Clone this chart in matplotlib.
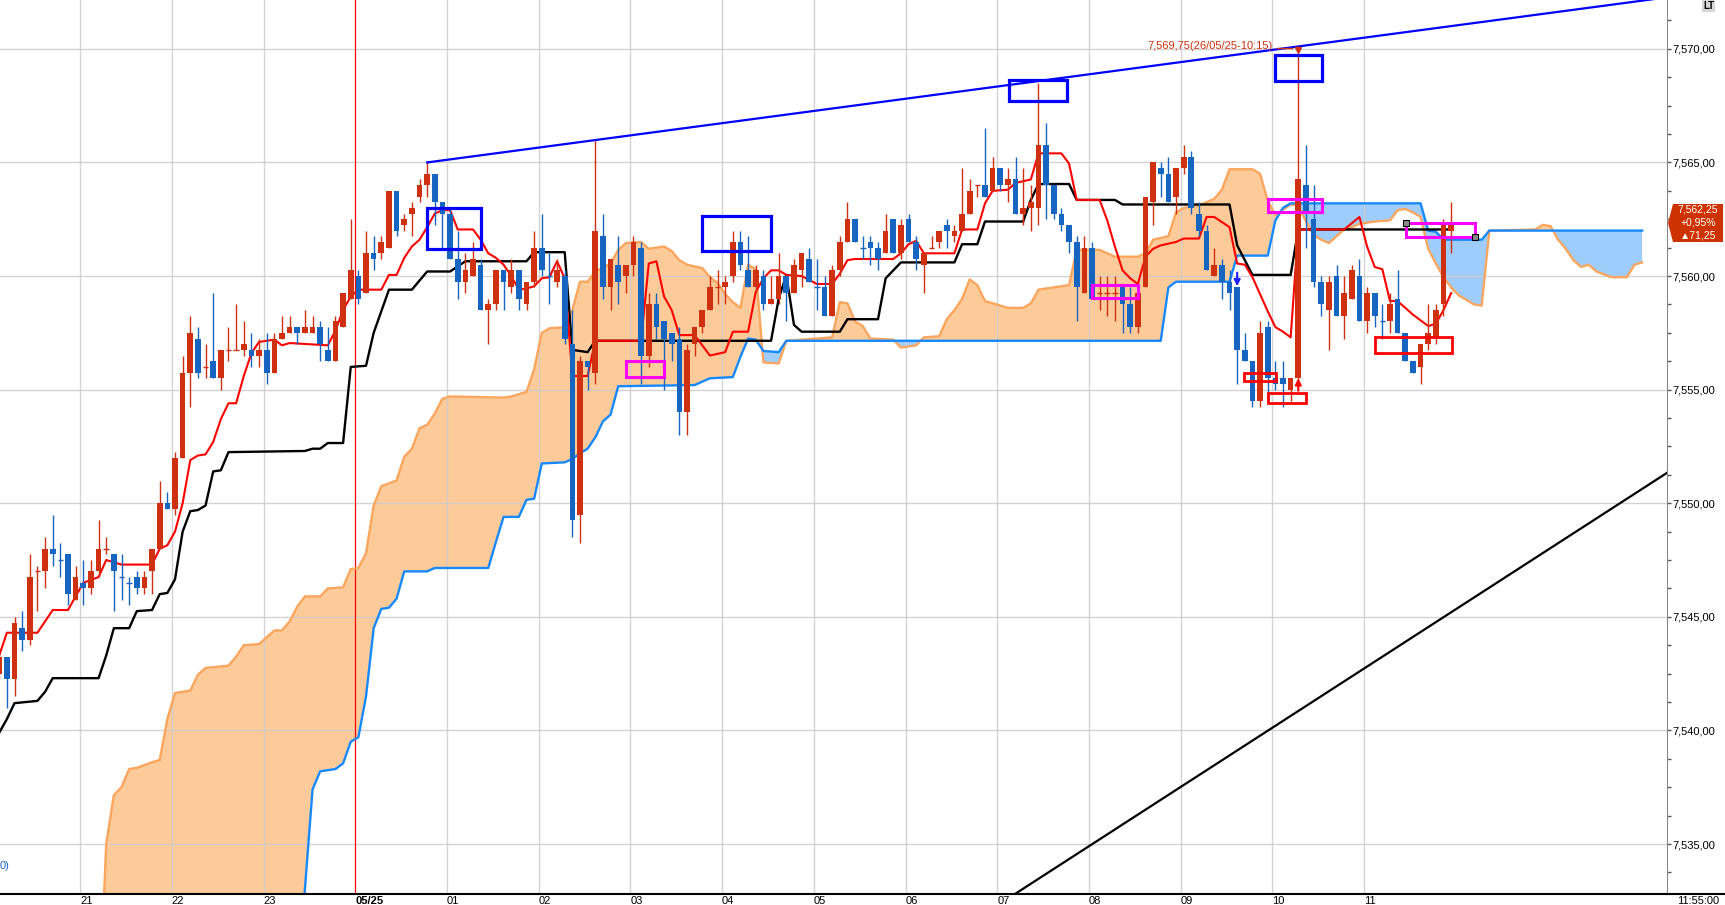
import numpy as np
import matplotlib
matplotlib.use("Agg")
import matplotlib.pyplot as plt
from matplotlib.patches import Rectangle, Polygon
from matplotlib.lines import Line2D
from matplotlib.ticker import MultipleLocator, FuncFormatter

plt.rcParams['font.family'] = ['Liberation Sans', 'DejaVu Sans']

# 5 minute bars, bar 0 = 05/25 00:00, first bar = 20:05 of the day before
first_bar = -47

opens = [
    7542.50, 7543.25, 7542.25, 7544.50, 7544.00, 7547.00, 7547.00, 7548.00, 7547.50, 7547.75, 7545.75,
    7546.50, 7546.25, 7547.00, 7548.00, 7547.75, 7546.75, 7546.50, 7546.75, 7546.25, 7547.00, 7548.00, 7550.00,
    7549.75, 7552.00, 7555.75, 7557.25, 7556.00, 7556.25, 7555.50, 7556.75, 7556.75, 7556.75, 7556.75, 7556.50,
    7556.75, 7555.75, 7557.25, 7557.50, 7557.75, 7557.50, 7557.50, 7557.75, 7556.75, 7556.25, 7557.75, 7559.00,
    7560.00, 7559.25, 7561.00, 7561.00, 7561.25, 7563.75, 7562.25, 7562.75, 7563.50, 7564.00, 7564.50, 7563.25,
    7562.75, 7560.75, 7559.75, 7560.00, 7560.50, 7558.50, 7558.75, 7560.25, 7559.50, 7560.25, 7558.75, 7559.75,
    7561.25, 7560.00, 7559.75, 7560.00, 7557.00, 7549.50, 7556.25, 7555.75, 7561.75, 7559.50, 7560.50, 7560.00,
    7560.50, 7561.25, 7556.50, 7558.75, 7558.00, 7557.50, 7557.25, 7554.00, 7557.00, 7557.75, 7558.50, 7559.50,
    7559.50, 7560.00, 7561.50, 7560.25, 7559.50, 7560.00, 7558.75, 7559.00, 7560.00, 7559.25, 7560.25, 7560.75,
    7559.50, 7559.50, 7558.25, 7560.25, 7561.50, 7562.50, 7561.25, 7561.50, 7561.25, 7561.00, 7562.50, 7561.00,
    7562.50, 7561.50, 7560.50, 7561.25, 7561.50, 7562.25, 7561.75, 7562.00, 7562.75, 7564.00, 7564.00, 7563.75,
    7564.75, 7564.00, 7564.25, 7562.75, 7563.00, 7563.00, 7565.75, 7564.00, 7562.75, 7562.25, 7561.50, 7559.25,
    7561.25, 7559.25, 7559.25, 7559.25, 7559.50, 7558.75, 7557.75, 7559.50, 7563.25, 7564.75, 7564.50, 7563.50,
    7564.75, 7565.25, 7562.75, 7562.00, 7560.00, 7560.50, 7559.75, 7559.50, 7556.75, 7556.25, 7554.50, 7557.75,
    7555.50, 7555.50, 7555.00, 7555.50, 7564.00, 7562.50, 7559.75, 7558.50, 7560.00, 7558.25, 7559.00, 7560.00,
    7558.00, 7559.25, 7558.00, 7558.00, 7559.00, 7557.50, 7556.25, 7556.00, 7557.00, 7557.25, 7558.75, 7562.00,
]
highs = [
    7543.50, 7543.25, 7545.00, 7545.25, 7547.75, 7547.25, 7548.50, 7549.50, 7548.25, 7547.75, 7547.25,
    7547.50, 7547.50, 7549.25, 7548.50, 7547.75, 7547.75, 7546.75, 7547.00, 7547.00, 7548.00, 7551.00, 7550.50,
    7552.25, 7556.50, 7558.25, 7557.75, 7557.00, 7559.25, 7556.75, 7557.75, 7558.75, 7558.00, 7557.50, 7557.25,
    7557.50, 7557.50, 7558.25, 7558.25, 7557.75, 7558.50, 7558.25, 7558.00, 7557.75, 7558.25, 7559.25, 7562.50,
    7560.25, 7562.00, 7561.75, 7561.75, 7563.75, 7563.75, 7562.75, 7563.25, 7564.25, 7565.00, 7564.50, 7563.25,
    7563.00, 7562.00, 7561.00, 7561.50, 7560.75, 7559.00, 7560.25, 7560.25, 7560.75, 7560.25, 7559.75, 7562.00,
    7562.75, 7561.00, 7560.75, 7560.25, 7558.50, 7556.50, 7556.25, 7566.00, 7562.75, 7560.75, 7561.75, 7560.50,
    7561.75, 7561.50, 7559.25, 7559.25, 7558.00, 7557.50, 7557.75, 7557.00, 7557.75, 7558.50, 7560.00, 7560.25,
    7560.00, 7562.00, 7562.00, 7561.75, 7560.50, 7560.25, 7560.00, 7561.00, 7560.00, 7560.75, 7561.00, 7561.25,
    7560.75, 7560.00, 7560.50, 7561.75, 7563.25, 7562.50, 7561.75, 7561.75, 7561.50, 7562.75, 7562.50, 7562.50,
    7562.75, 7561.75, 7561.00, 7561.75, 7562.00, 7562.50, 7562.25, 7564.75, 7564.25, 7564.00, 7566.50, 7565.25,
    7564.75, 7564.75, 7565.25, 7564.75, 7564.00, 7568.50, 7566.75, 7564.00, 7563.00, 7562.25, 7561.75, 7561.75,
    7561.50, 7560.00, 7560.00, 7560.00, 7559.50, 7559.50, 7559.25, 7563.50, 7565.00, 7565.00, 7565.25, 7564.75,
    7565.75, 7565.50, 7563.25, 7562.25, 7561.25, 7560.75, 7560.25, 7559.50, 7557.50, 7556.25, 7558.00, 7558.00,
    7556.25, 7556.25, 7555.50, 7569.75, 7565.75, 7564.00, 7560.00, 7560.00, 7560.50, 7560.00, 7560.50, 7560.75,
    7559.50, 7559.25, 7558.75, 7559.25, 7560.25, 7557.50, 7556.25, 7557.00, 7558.75, 7558.75, 7562.50, 7563.25,
]
lows = [
    7542.25, 7541.00, 7541.50, 7543.50, 7543.75, 7545.25, 7546.25, 7547.25, 7546.75, 7545.50, 7545.75,
    7545.50, 7546.00, 7546.75, 7547.75, 7545.25, 7545.75, 7545.50, 7546.00, 7546.00, 7546.00, 7548.00, 7549.75,
    7549.50, 7552.00, 7554.25, 7555.50, 7555.50, 7555.50, 7555.00, 7556.25, 7556.75, 7556.50, 7556.00, 7556.00,
    7555.25, 7555.75, 7557.25, 7557.50, 7557.00, 7557.50, 7557.50, 7556.25, 7556.25, 7556.25, 7557.75, 7559.00,
    7558.75, 7559.25, 7560.25, 7560.75, 7561.25, 7561.75, 7562.00, 7561.75, 7563.25, 7563.50, 7562.25, 7561.25,
    7560.75, 7559.00, 7559.25, 7560.00, 7558.50, 7557.00, 7558.50, 7558.50, 7559.25, 7558.50, 7558.50, 7559.50,
    7560.00, 7558.75, 7559.50, 7557.00, 7548.50, 7548.25, 7555.00, 7555.25, 7559.00, 7558.50, 7558.75, 7559.25,
    7560.00, 7555.25, 7556.00, 7557.25, 7555.00, 7556.25, 7553.00, 7553.00, 7556.50, 7557.50, 7558.50, 7558.75,
    7558.75, 7559.75, 7560.25, 7559.50, 7559.25, 7558.50, 7558.75, 7558.75, 7558.00, 7559.25, 7559.50, 7559.75,
    7558.50, 7558.25, 7558.25, 7560.00, 7561.50, 7561.50, 7560.75, 7560.50, 7560.25, 7561.00, 7561.00, 7560.75,
    7561.50, 7560.25, 7559.25, 7561.25, 7561.25, 7561.25, 7561.50, 7562.00, 7562.75, 7563.50, 7563.50, 7563.75,
    7563.75, 7563.25, 7562.75, 7562.25, 7562.00, 7562.25, 7562.50, 7562.50, 7562.00, 7561.00, 7558.00, 7559.25,
    7559.00, 7558.50, 7558.25, 7558.00, 7557.50, 7557.50, 7557.50, 7559.50, 7562.25, 7563.50, 7563.25, 7562.75,
    7564.50, 7562.75, 7561.75, 7560.25, 7560.00, 7559.00, 7558.50, 7555.25, 7556.25, 7554.25, 7554.25, 7554.50,
    7555.00, 7554.25, 7554.50, 7555.25, 7561.25, 7559.50, 7558.25, 7556.75, 7558.25, 7557.25, 7559.00, 7558.00,
    7557.50, 7557.75, 7557.25, 7557.50, 7557.50, 7556.25, 7555.75, 7555.25, 7556.75, 7557.00, 7558.25, 7561.00,
]
closes = [
    7543.25, 7542.25, 7544.75, 7544.00, 7546.75, 7547.00, 7548.00, 7547.75, 7547.50, 7546.00, 7546.75,
    7546.25, 7547.00, 7548.00, 7548.00, 7547.00, 7546.75, 7546.50, 7546.25, 7546.75, 7548.00, 7550.00, 7549.75,
    7552.00, 7555.75, 7557.50, 7555.75, 7556.00, 7555.50, 7556.75, 7556.75, 7556.75, 7557.00, 7556.50, 7556.75,
    7555.75, 7557.25, 7557.50, 7557.75, 7557.50, 7557.75, 7557.75, 7557.00, 7556.25, 7558.00, 7559.25, 7560.25,
    7559.00, 7561.00, 7560.75, 7561.50, 7563.75, 7562.00, 7562.50, 7563.00, 7564.00, 7564.50, 7563.25, 7562.75,
    7560.75, 7559.75, 7560.25, 7560.75, 7558.50, 7558.75, 7560.25, 7559.75, 7560.25, 7559.00, 7559.75, 7561.25,
    7560.25, 7560.00, 7560.25, 7557.25, 7549.25, 7556.25, 7556.00, 7562.00, 7559.50, 7560.75, 7559.75, 7560.50,
    7561.50, 7556.50, 7558.75, 7557.75, 7557.25, 7557.00, 7554.00, 7556.75, 7557.75, 7558.50, 7559.50, 7559.50,
    7559.75, 7561.50, 7560.50, 7559.50, 7560.25, 7558.75, 7559.00, 7560.00, 7559.25, 7560.50, 7561.00, 7559.75,
    7559.50, 7558.25, 7560.25, 7561.50, 7562.50, 7561.50, 7561.25, 7561.25, 7560.75, 7562.00, 7561.00, 7562.25,
    7561.50, 7560.75, 7561.00, 7561.25, 7562.00, 7562.00, 7562.00, 7562.75, 7563.75, 7564.00, 7563.50, 7564.75,
    7564.00, 7564.25, 7562.75, 7563.00, 7563.25, 7565.75, 7564.00, 7562.75, 7562.25, 7561.50, 7559.50, 7561.25,
    7559.00, 7559.25, 7559.25, 7559.25, 7558.75, 7557.75, 7559.25, 7563.50, 7565.00, 7564.50, 7563.25, 7564.75,
    7565.25, 7563.00, 7562.00, 7560.25, 7560.50, 7559.75, 7559.25, 7556.75, 7556.25, 7554.50, 7557.50, 7555.50,
    7555.25, 7555.25, 7555.50, 7564.25, 7562.75, 7559.75, 7558.75, 7559.75, 7558.25, 7559.25, 7560.25, 7558.00,
    7559.25, 7558.25, 7558.00, 7558.75, 7557.50, 7556.25, 7555.75, 7557.00, 7557.50, 7558.50, 7562.25, 7562.25,
]

# ichimoku lines as (bar, price)
tenkan_pts = [
    (-47, 7543.3), (-46, 7544.3), (-42, 7544.3), (-40, 7545.3), (-38, 7545.3), (-36, 7546.5), (-34, 7546.75),
    (-33, 7547.5), (-31, 7547.3), (-27, 7547.3), (-26, 7548.0), (-25, 7548.15), (-24, 7548.75), (-23, 7550.0),
    (-22, 7551.9), (-21, 7552.1), (-20, 7552.15), (-19, 7552.7), (-18, 7553.7), (-17, 7554.4), (-16, 7554.4),
    (-15, 7555.6), (-14, 7556.6), (-13, 7557.1), (-11, 7557.2), (-10, 7556.95), (-9, 7557.05), (-4, 7556.95),
    (-3, 7557.6), (-2, 7558.5), (-1, 7559.1), (0, 7559.4), (3, 7559.4), (4, 7560.05), (5, 7560.05), (6, 7560.8),
    (7, 7561.3), (8, 7561.6), (9, 7562.15), (10, 7562.75), (11, 7562.9), (12, 7562.9), (13, 7562.05), (15, 7562.05),
    (16, 7561.6), (17, 7561.0), (18, 7560.8), (19, 7560.5), (20, 7560.0), (21, 7559.4), (22, 7559.45), (23, 7559.55),
    (24, 7559.9), (25, 7559.95), (26, 7560.65), (27, 7559.9), (28, 7555.6), (30, 7555.6), (31, 7557.15), (37, 7557.15),
    (38, 7560.55), (39, 7560.65), (40, 7559.1), (41, 7558.5), (42, 7557.4), (44, 7557.4), (46, 7556.5), (48, 7556.65),
    (49, 7557.55), (51, 7557.55), (52, 7559.3), (53, 7559.9), (54, 7560.25), (55, 7560.25), (56, 7560.05), (58, 7560.0),
    (60, 7559.65), (62, 7559.65), (63, 7560.1), (64, 7560.7), (65, 7560.75), (70, 7560.75), (71, 7561.0), (72, 7561.4),
    (73, 7561.55), (74, 7561.0), (78, 7561.0), (79, 7562.05), (81, 7562.05), (82, 7563.2), (83, 7563.75), (85, 7563.8),
    (86, 7564.1), (88, 7564.25), (89, 7565.4), (92, 7565.4), (93, 7564.95), (94, 7563.35), (97, 7563.35), (98, 7562.45),
    (99, 7561.3), (100, 7560.25), (101, 7559.9), (102, 7559.65), (103, 7560.85), (104, 7561.2), (105, 7561.35),
    (107, 7561.5), (108, 7561.65), (110, 7561.65), (111, 7562.6), (112, 7562.6), (114, 7562.15), (115, 7560.55),
    (116, 7560.5), (117, 7559.95), (118, 7559.2), (119, 7558.45), (120, 7557.75), (121, 7557.55), (122, 7557.3),
    (123, 7562.05), (129, 7562.05), (131, 7562.6), (132, 7561.3), (133, 7560.4), (134, 7560.3), (135, 7558.9),
    (136, 7558.9), (138, 7558.3), (140, 7557.8), (141, 7557.9), (142, 7558.5), (143, 7559.25),
]
kijun_pts = [
    (-47, 7539.9), (-46, 7540.5), (-45, 7541.2), (-42, 7541.3), (-41, 7541.7), (-40, 7542.3), (-34, 7542.3),
    (-33, 7543.3), (-32, 7544.5), (-30, 7544.5), (-29, 7545.25), (-27, 7545.3), (-26, 7546.0), (-25, 7546.05),
    (-24, 7546.65), (-23, 7548.75), (-22, 7549.65), (-21, 7549.7), (-20, 7549.9), (-19, 7551.4), (-18, 7551.45),
    (-17, 7552.25), (-7, 7552.3), (-6, 7552.4), (-5, 7552.4), (-4, 7552.65), (-2, 7552.65), (-1, 7556.0),
    (1, 7556.05), (2, 7557.5), (4, 7559.4), (7, 7559.4), (9, 7560.2), (12, 7560.2), (14, 7560.65), (22, 7560.65),
    (23, 7561.05), (27, 7561.05), (28, 7556.75), (30, 7556.65), (31, 7557.15), (54, 7557.15), (55, 7559.0),
    (56, 7560.05), (57, 7557.85), (58, 7557.55), (63, 7557.55), (64, 7558.1), (68, 7558.1), (69, 7559.9),
    (70, 7560.25), (71, 7560.6), (78, 7560.6), (79, 7561.4), (81, 7561.4), (82, 7562.4), (87, 7562.4),
    (88, 7563.35), (89, 7564.05), (93, 7564.05), (94, 7563.35), (99, 7563.35), (100, 7563.15), (114, 7563.15),
    (115, 7561.35), (116, 7560.7), (117, 7560.05), (122, 7560.05), (123, 7562.05), (143, 7562.05),
]
span_orange_pts = [
    (-34, 7527.0), (-33, 7535.0), (-32, 7537.15), (-31, 7537.5), (-30, 7538.3), (-29, 7538.35), (-27, 7538.6),
    (-26, 7538.7), (-25, 7540.5), (-24, 7541.65), (-22, 7541.75), (-21, 7542.45), (-20, 7542.75), (-17, 7542.85),
    (-16, 7543.25), (-15, 7543.75), (-13, 7543.8), (-12, 7544.1), (-11, 7544.4), (-10, 7544.4), (-9, 7544.8),
    (-8, 7545.45), (-7, 7545.9), (-5, 7545.9), (-4, 7546.25), (-2, 7546.3), (-1, 7547.1), (0, 7547.15), (1, 7547.8),
    (2, 7549.9), (3, 7550.75), (5, 7551.0), (6, 7552.05), (7, 7552.4), (8, 7553.3), (9, 7553.45), (10, 7553.95),
    (11, 7554.6), (12, 7554.7), (19, 7554.65), (20, 7554.7), (22, 7554.9), (23, 7555.9), (24, 7557.5), (25, 7557.7),
    (27, 7557.75), (28, 7558.5), (29, 7559.75), (30, 7559.75), (31, 7560.2), (33, 7560.55), (34, 7561.15),
    (35, 7561.45), (37, 7561.5), (38, 7561.2), (40, 7561.3), (41, 7561.1), (42, 7560.7), (43, 7560.5), (45, 7560.35),
    (46, 7559.95), (47, 7559.7), (48, 7559.2), (49, 7558.85), (50, 7558.6), (51, 7560.5), (52, 7560.3), (53, 7556.2),
    (55, 7556.15), (56, 7557.15), (62, 7557.3), (63, 7558.85), (64, 7558.8), (65, 7558.0), (66, 7557.8), (67, 7557.25),
    (70, 7557.2), (71, 7556.85), (73, 7556.95), (74, 7557.3), (76, 7557.35), (77, 7558.1), (78, 7558.5), (79, 7559.0),
    (80, 7559.85), (81, 7559.6), (82, 7558.9), (83, 7558.8), (85, 7558.6), (87, 7558.6), (88, 7558.8), (89, 7559.4),
    (90, 7559.45), (93, 7559.6), (94, 7561.15), (97, 7561.15), (99, 7560.85), (102, 7560.85), (103, 7561.0),
    (104, 7561.6), (106, 7561.75), (107, 7562.8), (108, 7563.0), (110, 7563.1), (112, 7563.4), (113, 7563.8),
    (114, 7564.7), (117, 7564.7), (118, 7564.5), (119, 7563.3), (120, 7562.7), (122, 7563.15), (123, 7563.1),
    (124, 7562.4), (125, 7561.8), (126, 7561.6), (127, 7561.45), (128, 7561.75), (129, 7562.05), (130, 7562.15),
    (131, 7562.3), (133, 7562.4), (135, 7562.45), (136, 7562.9), (137, 7562.95), (138, 7562.8), (139, 7562.6),
    (140, 7561.2), (141, 7560.55), (142, 7559.95), (143, 7559.5), (144, 7559.15), (145, 7558.95), (146, 7558.75),
    (147, 7558.7), (148, 7562.0), (154, 7562.05), (155, 7562.25), (156, 7562.2), (157, 7561.6), (158, 7561.2),
    (159, 7560.7), (160, 7560.4), (161, 7560.5), (162, 7560.2), (164, 7559.95), (166, 7559.95), (167, 7560.5),
    (168, 7560.6),
]
span_blue_pts = [
    (-8, 7528.0), (-7, 7533.0), (-6, 7537.4), (-5, 7538.2), (-3, 7538.3), (-2, 7538.55), (-1, 7539.5), (0, 7539.7),
    (1, 7541.5), (2, 7544.5), (3, 7545.35), (4, 7545.4), (5, 7545.8), (6, 7547.0), (9, 7547.0), (10, 7547.15),
    (17, 7547.15), (18, 7548.3), (19, 7549.4), (21, 7549.4), (22, 7550.15), (23, 7550.2), (24, 7551.75), (27, 7551.8),
    (28, 7551.95), (29, 7552.2), (30, 7552.4), (31, 7552.9), (32, 7553.6), (33, 7553.9), (34, 7555.15), (44, 7555.2),
    (46, 7555.5), (49, 7555.55), (50, 7556.45), (51, 7557.25), (52, 7557.2), (53, 7556.7), (55, 7556.65),
    (56, 7557.15), (105, 7557.15), (106, 7559.5), (107, 7559.75), (114, 7559.75), (115, 7560.9), (119, 7560.9),
    (120, 7562.45), (121, 7563.0), (122, 7563.2), (139, 7563.2), (140, 7562.0), (141, 7561.95), (142, 7561.6),
    (147, 7561.6), (148, 7562.0), (168, 7562.0),
]

# drawn objects on the chart (bar, price)
upper_trend = [(9, 7565.0), (172, 7572.3)]
lower_trend = [(85, 7532.6), (172, 7551.5)]
blue_boxes = [(9.0, 16.0, 7561.2, 7563.0), (45.0, 54.0, 7561.1, 7562.65),
              (85.1, 92.7, 7567.7, 7568.65), (120.0, 126.05, 7568.6, 7569.75)]
magenta_boxes = [(35.0, 40.0, 7555.55, 7556.25), (96.0, 102.0, 7559.05, 7559.6),
                 (119.0, 126.1, 7562.8, 7563.4), (137.1, 146.1, 7561.7, 7562.35)]
red_boxes = [(115.9, 120.1, 7555.4, 7555.75), (119.0, 124.0, 7554.4, 7554.85), (133.0, 143.1, 7556.6, 7557.3)]

hour_bars = [-36, -24, -12, 0, 12, 24, 36, 48, 60, 72, 84, 96, 108, 120, 132]
hour_labels = ["21", "22", "23", "05/25", "01", "02", "03", "04", "05", "06", "07", "08", "09", "10", "11"]
last_price = "7,562,25"
last_change = "+0,95%"
last_diff = "\u25b271,25"

RED = '#cf3010'
BLUE = '#1665c1'

W, H = 1725, 905
fig = plt.figure(figsize=(W / 100, H / 100), dpi=100)
ax = fig.add_axes([0, 11 / H, 1667 / W, 894 / H])
ax.set_xlim(-46.9, 171.25)
ax.set_ylim(7532.8, 7572.15)

# cloud
o_x, o_y = zip(*span_orange_pts)
b_x, b_y = zip(*span_blue_pts)
xs = np.linspace(o_x[0], o_x[-1], 6000)
ya = np.interp(xs, o_x, o_y)
yb = np.interp(xs, b_x, b_y, left=7500)
ax.fill_between(xs, ya, yb, where=ya >= yb, interpolate=True, color='#fdcb99', lw=0, zorder=1)
ax.fill_between(xs, ya, yb, where=ya < yb, interpolate=True, color='#9fcdfb', lw=0, zorder=1)

# grid
for y in np.arange(7535, 7571, 5):
    ax.axhline(y, color='#cccccc', lw=1, alpha=0.85, zorder=1.2)
for hb in hour_bars:
    if hb == 0:
        ax.axvline(hb - 0.4, color='#ff0000', lw=0.9, zorder=1.3)
    else:
        ax.axvline(hb - 0.4, color='#cccccc', lw=1, alpha=0.85, zorder=1.2)

ax.plot(o_x, o_y, color='#fba65e', lw=1.7, zorder=2)
ax.plot(b_x, b_y, color='#1789ff', lw=1.7, zorder=2.1)

k_x, k_y = zip(*kijun_pts)
ax.plot(k_x, k_y, color='black', lw=1.7, zorder=3)
t_x, t_y = zip(*tenkan_pts)
ax.plot(t_x, t_y, color='#ff0000', lw=1.5, zorder=3.1)

# candles
o = np.array(opens)
h = np.array(highs)
l = np.array(lows)
c = np.array(closes)
bars = np.arange(first_bar, first_bar + len(o))
prev_c = np.concatenate([[o[0]], c[:-1]])
up = (c > o) | ((c == o) & (c >= prev_c))
cols = np.where(up, RED, BLUE)
ax.vlines(bars, l, h, colors=cols, lw=1.0, zorder=4)
body = c != o
ax.bar(bars[body], np.abs(c - o)[body], bottom=np.minimum(o, c)[body], width=0.74,
       color=cols[body], lw=0, zorder=5)
ax.hlines(c[~body], bars[~body] - 0.37, bars[~body] + 0.37, colors=cols[~body], lw=1.0, zorder=5)

# trend lines
tx, ty = zip(*upper_trend)
ax.plot(tx, ty, color='#0000ff', lw=1.6, zorder=6)
tx, ty = zip(*lower_trend)
ax.plot(tx, ty, color='black', lw=1.6, zorder=6)

for boxes, col, lw in [(blue_boxes, '#0000ff', 2.3), (magenta_boxes, '#ff00ff', 2.2), (red_boxes, '#ff0000', 2.0)]:
    for x0, x1, y0, y1 in boxes:
        ax.add_patch(Rectangle((x0, y0), x1 - x0, y1 - y0, fill=False, edgecolor=col, lw=lw, zorder=7))
ax.plot([magenta_boxes[3][0], magenta_boxes[3][1]], [magenta_boxes[3][3], magenta_boxes[3][2]], ls='none',
        marker='s', ms=4.5, mfc='#8a8a8a', mec='black', mew=0.8, zorder=8)

ax.annotate('', xy=(115, 7559.55), xytext=(115, 7560.15),
            arrowprops=dict(arrowstyle='-|>', color='#2020ff', lw=1.5, mutation_scale=9, shrinkA=0, shrinkB=0),
            zorder=8)
ax.annotate('', xy=(123, 7555.5), xytext=(123, 7554.95),
            arrowprops=dict(arrowstyle='-|>', color='#ff0000', lw=1.5, mutation_scale=9, shrinkA=0, shrinkB=0),
            zorder=8)

# high marker of 10:15
ax.text(119.7, 7570.12, "7,569,75(26/05/25-10:15)", ha='right', va='center', color='#d03010', fontsize=8, zorder=8)
ax.plot([120.2, 122.2], [7570.05, 7570.05], color='#d03010', lw=1, zorder=8)
ax.plot(123, 7569.95, marker='v', color='#d03010', ms=4, zorder=8)

# axes
for s in ['top', 'left']:
    ax.spines[s].set_visible(False)
ax.spines['right'].set_color('#8a8a8a')
ax.spines['bottom'].set_color('black')
ax.spines['bottom'].set_linewidth(1.5)
ax.yaxis.tick_right()
ax.set_yticks(np.arange(7535, 7571, 5))
ax.yaxis.set_minor_locator(MultipleLocator(1.25))
ax.yaxis.set_major_formatter(FuncFormatter(lambda v, p: f"{v:,.2f}".replace('.', ',')))
ax.tick_params(axis='y', which='both', direction='out', length=3, width=1, color='#555555',
               pad=1, labelsize=8)
ax.set_xticks([hb - 0.4 for hb in hour_bars])
ax.set_xticklabels(hour_labels)
ax.tick_params(axis='x', length=0, pad=1.5, labelsize=8)
for lbl in ax.get_xticklabels():
    lbl.set_ha('left')
    if lbl.get_text() == "05/25":
        lbl.set_fontweight('bold')

# decorations outside the plot area
fig.add_artist(Line2D([1667 / W, 1], [11 / H, 11 / H], color='black', lw=1.5))
tag = [(1668, 223), (1673, 204), (1723, 204), (1723, 242), (1673, 242)]
fig.add_artist(Polygon([(x / W, 1 - y / H) for x, y in tag], closed=True, transform=fig.transFigure,
                       facecolor='#cc3300', edgecolor='none'))
for txt, yy in [(last_price, 210), (last_change, 222.5), (last_diff, 235)]:
    fig.text(1698 / W, 1 - yy / H, txt, color='white', fontsize=7.5, ha='center', va='center')
fig.text(1677 / W, 1 - 896 / H, "11:55:00", fontsize=8, ha='left', va='top')
fig.text(1703 / W, 1 - 1 / H, "LT", fontsize=7, fontweight='bold', ha='left', va='top',
         bbox=dict(facecolor='#d6d6d6', edgecolor='none', pad=0.5))
fig.text(0, 1 - 866 / H, "0)", fontsize=8, color='#1a66c4', ha='left', va='center')

fig.savefig("out.png", dpi=100)
